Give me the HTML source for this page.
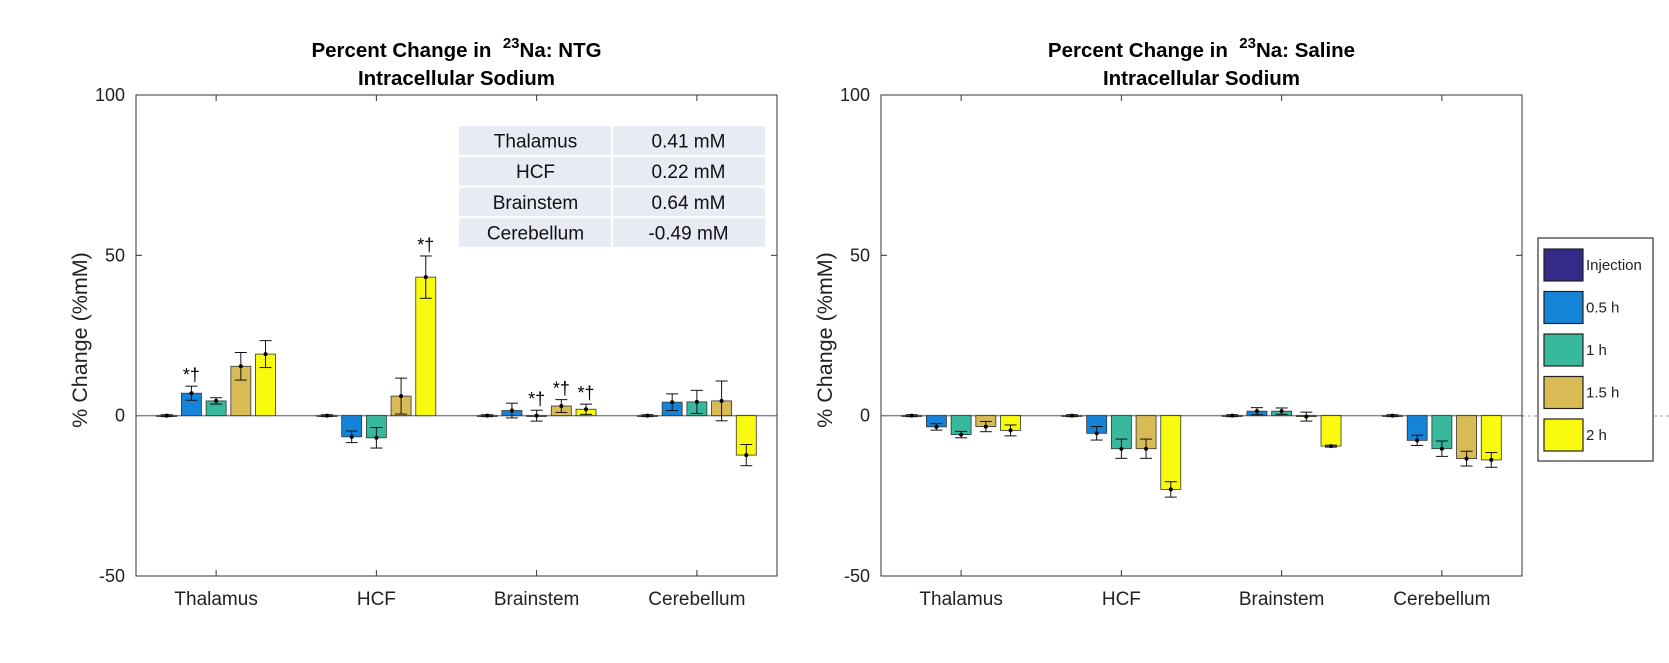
<!DOCTYPE html>
<html><head><meta charset="utf-8">
<style>
html,body{margin:0;padding:0;background:#fff;}
svg{display:block;font-family:"Liberation Sans",Arial,sans-serif;}
</style></head>
<body>
<svg id="fig" width="1669" height="663" viewBox="0 0 1669 663" xmlns="http://www.w3.org/2000/svg">
  <rect width="1669" height="663" fill="#fff"/>
  <line x1="1522" y1="416" x2="1669" y2="416" stroke="#999" stroke-dasharray="3,3" stroke-width="1"/>
  <g id="left"></g>
  <g id="right"></g>
  <g id="table"></g>
  <g id="legend"></g>
</svg>
<script>
const categories = ["Thalamus","HCF","Brainstem","Cerebellum"];
const seriesNames = ["Injection","0.5 h","1 h","1.5 h","2 h"];
const seriesColors = ["#352a87","#1584d8","#38b99e","#d9bb55","#f9fb0e"];
const yTicks = [-50,0,50,100];
// NTG: values[series][category]
const ntgValues = [
  [0,0,0,0],
  [7.0,-6.6,1.6,4.2],
  [4.6,-6.9,0.0,4.3],
  [15.4,6.1,3.0,4.6],
  [19.2,43.2,2.0,-12.3]
];
const ntgErrors = [
  [0.3,0.3,0.3,0.3],
  [2.2,1.8,2.3,2.6],
  [1.0,3.2,1.7,3.6],
  [4.3,5.6,2.0,6.2],
  [4.2,6.6,1.6,3.3]
];
const ntgMarks = [
  [false,false,false,false],
  [true,false,false,false],
  [false,false,true,false],
  [false,false,true,false],
  [false,true,true,false]
];
const salValues = [
  [0,0,0,0],
  [-3.5,-5.5,1.4,-7.7],
  [-5.9,-10.3,1.4,-10.3],
  [-3.4,-10.3,-0.3,-13.4],
  [-4.6,-23.0,-9.5,-13.8]
];
const salErrors = [
  [0.3,0.3,0.3,0.3],
  [1.0,2.1,1.1,1.6],
  [1.0,3.0,1.0,2.4],
  [1.6,3.0,1.4,2.3],
  [1.7,2.4,0.3,2.3]
];
const tableRegions = ["Thalamus","HCF","Brainstem","Cerebellum"];
const tableValues = ["0.41 mM","0.22 mM","0.64 mM","-0.49 mM"];

const NS="http://www.w3.org/2000/svg";
function mk(tag,attrs,parent){const e=document.createElementNS(NS,tag);for(const k in attrs)e.setAttribute(k,attrs[k]);if(parent)parent.appendChild(e);return e;}

const top0=95, bot0=576, yMin=-50, yMax=100;
function yScale(v){return bot0-(v-yMin)/(yMax-yMin)*(bot0-top0);}

function drawChart(g,x0,x1,values,errors,marks,titleTail){
  const xc=i=>x0+(x1-x0)*(i+0.5)/categories.length;
  const t1=mk('text',{x:(x0+x1)/2,y:57,'text-anchor':'middle','font-size':20.5,'font-weight':'bold',fill:'#000'},g);
  
  
  t1.innerHTML='Percent Change in&#160;&#160;<tspan dy="-9" font-size="15">23</tspan><tspan dy="9">Na: '+titleTail+'</tspan>';
  const t2=mk('text',{x:(x0+x1)/2,y:85,'text-anchor':'middle','font-size':20.5,'font-weight':'bold',fill:'#000'},g);
  
  
  t2.textContent='Intracellular Sodium';
  const yl=mk('text',{x:0,y:0,transform:`translate(${x0-49},340) rotate(-90)`,'text-anchor':'middle','font-size':21.5,fill:'#222'},g);
  
  
  yl.textContent='% Change (%mM)';
  yTicks.forEach(v=>{
    const y=yScale(v);
    const tl=mk('text',{x:x0-11,y:y+6,'text-anchor':'end','font-size':18,fill:'#222'},g);
    
    
    tl.textContent=v;
    mk('line',{x1:x0,y1:y,x2:x0+6,y2:y,stroke:'#333'},g);
    mk('line',{x1:x1,y1:y,x2:x1-6,y2:y,stroke:'#333'},g);
  });
  const z=mk('line',{x1:x0,y1:yScale(0),x2:x1,y2:yScale(0),stroke:'#888','stroke-width':1.5},g);
  
  
  categories.forEach((c,i)=>{
    const x=xc(i);
    mk('line',{x1:x,y1:bot0,x2:x,y2:bot0-6,stroke:'#333'},g);
    mk('line',{x1:x,y1:top0,x2:x,y2:top0+6,stroke:'#333'},g);
    const xl=mk('text',{x:x,y:605,'text-anchor':'middle','font-size':19,fill:'#222'},g);
    
    
    xl.textContent=c;
  });
  const bw=20, step=24.7;
  values.forEach((ser,s)=>{
    ser.forEach((v,i)=>{
      const x=xc(i)+(s-2)*step;
      const y0=yScale(0), y=yScale(v);
      const r=mk('rect',{x:x-bw/2,y:Math.min(y0,y),width:bw,height:Math.max(Math.abs(y-y0),0.8),fill:seriesColors[s],stroke:'#333','stroke-width':0.8},g);
      
      
      const e=errors[s][i];
      const yt=yScale(v+e), yb=yScale(v-e);
      const eb=mk('g',{stroke:'#111','stroke-width':1},g);
      
      
      mk('line',{x1:x,y1:yt,x2:x,y2:yb},eb);
      mk('line',{x1:x-6,y1:yt,x2:x+6,y2:yt},eb);
      mk('line',{x1:x-6,y1:yb,x2:x+6,y2:yb},eb);
      mk('circle',{cx:x,cy:y,r:2,fill:'#000',stroke:'none'},g);
      if(marks && marks[s][i]){
        const m=mk('text',{x:x,y:yt-5,'text-anchor':'middle','font-size':18,fill:'#000'},g);
        
        
        m.textContent='*†';
      }
    });
  });
  const b=mk('rect',{x:x0,y:top0,width:x1-x0,height:bot0-top0,fill:'none',stroke:'#333','stroke-width':1},g);
  
  
}
drawChart(document.getElementById('left'),136,777,ntgValues,ntgErrors,ntgMarks,'NTG');
drawChart(document.getElementById('right'),881,1522,salValues,salErrors,null,'Saline');

const tg=document.getElementById('table');
const tx0=459, tx1=765, tsplit=612, ty0=126, rh=30.75;
tableRegions.forEach((r,i)=>{
  const y=ty0+i*rh;
  mk('rect',{x:tx0,y:y,width:tsplit-tx0-1,height:rh-2,fill:'#e8eaf4'},tg);
  mk('rect',{x:tsplit+1,y:y,width:tx1-tsplit-1,height:rh-2,fill:'#e8eaf4'},tg);
  const a=mk('text',{x:(tx0+tsplit)/2,y:y+rh/2+6,'text-anchor':'middle','font-size':19,fill:'#111'},tg);
  
  
  a.textContent=r;
  const b=mk('text',{x:(tsplit+tx1)/2,y:y+rh/2+6,'text-anchor':'middle','font-size':19,fill:'#111'},tg);
  
  
  b.textContent=tableValues[i];
});

const lg=document.getElementById('legend');
mk('rect',{x:1538,y:238,width:115,height:223,fill:'#fff',stroke:'#333','stroke-width':1.2},lg);
seriesNames.forEach((n,i)=>{
  const y=249+i*42.5;
  const sw=mk('rect',{x:1544,y:y,width:39,height:32,fill:seriesColors[i],stroke:'#222','stroke-width':1.2},lg);
  
  
  const t=mk('text',{x:1586,y:y+21,'font-size':15,fill:'#222'},lg);
  
  
  t.textContent=n;
});
</script>
</body></html>
